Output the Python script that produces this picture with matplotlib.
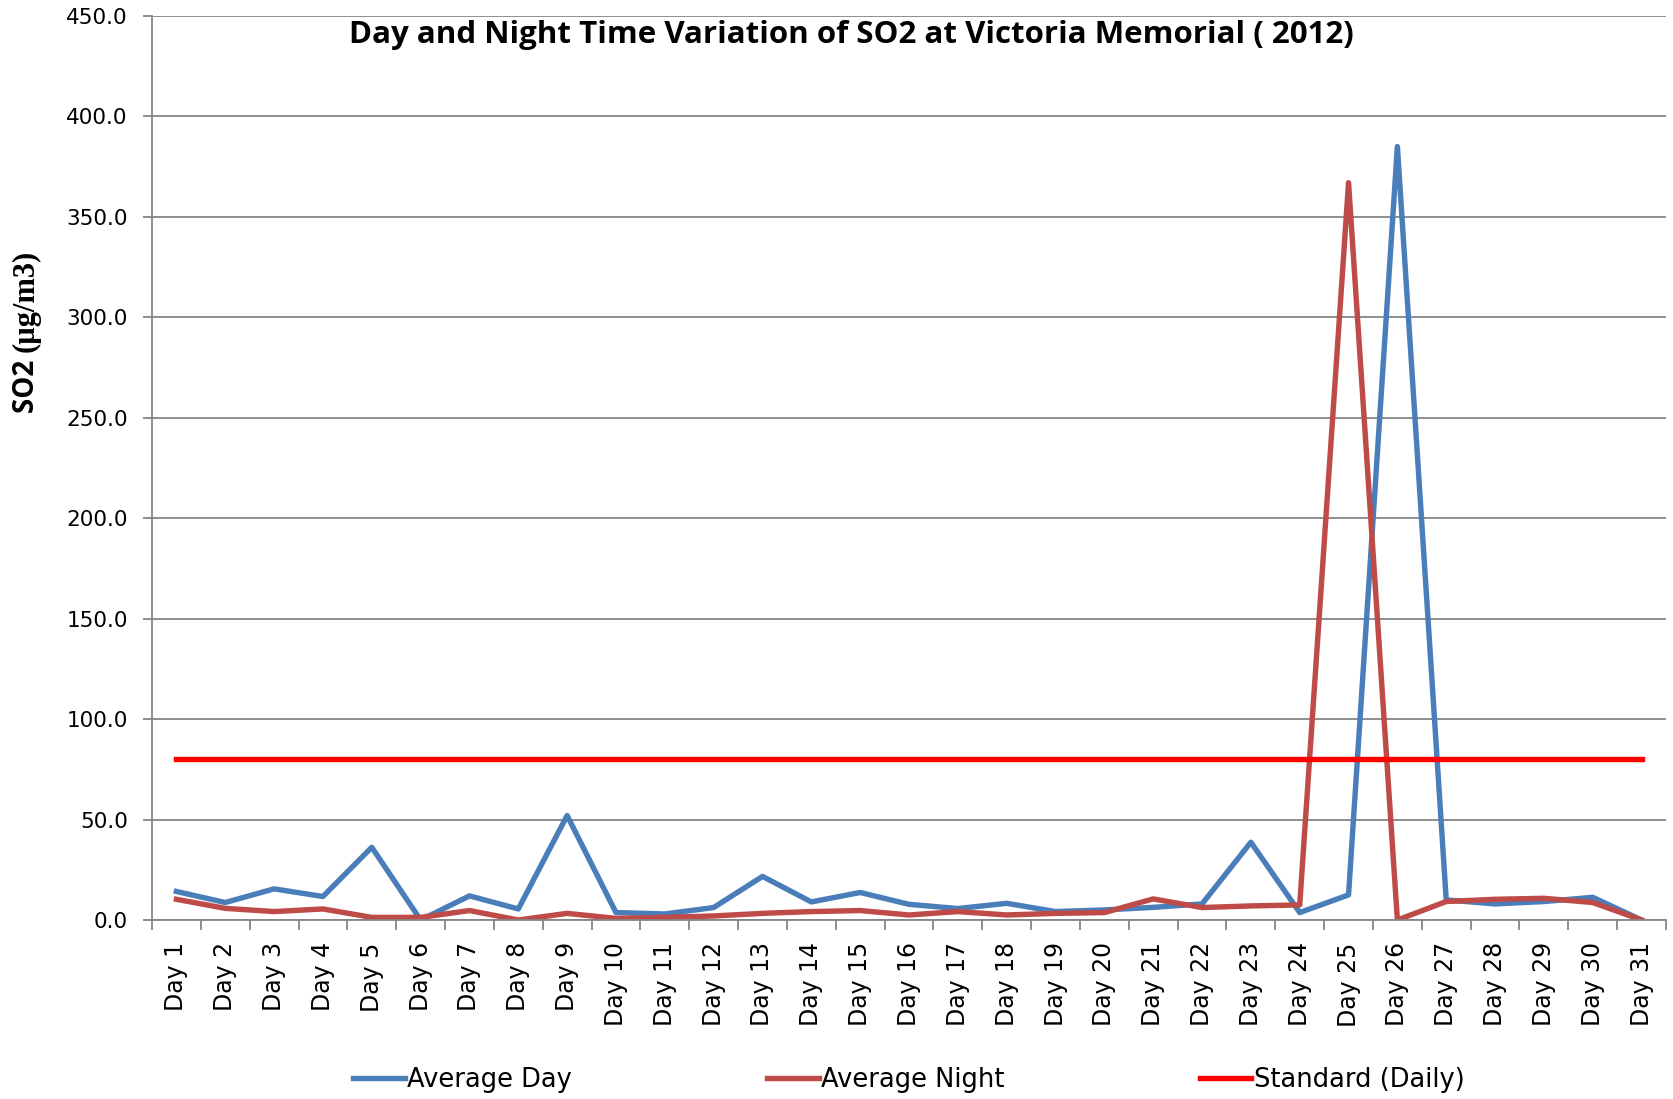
import matplotlib.pyplot as plt

days = [f"Day {i}" for i in range(1, 32)]
avg_day = [14.2, 8.7, 15.5, 11.7, 36.2, 0.0, 12.0, 5.5, 52.0, 3.7, 3.0,
           6.2, 21.7, 9.0, 13.7, 7.8, 5.7, 8.3, 4.2, 5.0, 6.3, 8.0,
           38.7, 3.7, 12.5, 385.0, 10.0, 8.0, 9.2, 11.3, 0.0]
avg_night = [10.3, 5.8, 4.2, 5.5, 1.3, 1.3, 4.7, 0.0, 3.3, 0.8, 1.3,
             2.0, 3.3, 4.2, 4.7, 2.5, 4.2, 2.5, 3.3, 3.7, 10.5, 6.2,
             7.0, 7.5, 367.0, 0.0, 9.2, 10.3, 10.8, 8.7, 0.0]
standard = [80.0] * 31
y_ticks = [0, 50, 100, 150, 200, 250, 300, 350, 400, 450]

W, H = 1673, 1099
fig = plt.figure(figsize=(W / 100, H / 100), dpi=100)
ax = fig.add_axes([152 / W, 1 - 920 / H, (1666 - 152) / W, (920 - 16) / H])

gray = '#868686'
x = list(range(len(days)))
l1, = ax.plot(x, avg_day, color='#4A7EBB', lw=3.9, label='Average Day')
l2, = ax.plot(x, avg_night, color='#BE4B48', lw=3.9, label='Average Night')
l3, = ax.plot(x, standard, color='#FF0000', lw=3.9, label='Standard (Daily)')

ax.set_xlim(-0.5, 30.5)
ax.set_ylim(0, 450)
ax.set_yticks(y_ticks)
ax.set_yticklabels([f"{v:.1f}" for v in y_ticks], fontsize=15.5, family='DejaVu Sans')
ax.yaxis.grid(True, color=gray, lw=1.3)
ax.set_axisbelow(True)

ax.set_xticks(x)
ax.set_xticklabels(days, rotation=90, fontsize=17, family='DejaVu Sans')
ax.set_xticks([i - 0.5 for i in range(32)], minor=True)
ax.tick_params(axis='x', which='major', length=0, pad=16)
ax.tick_params(axis='x', which='minor', length=7, color=gray, width=1.3)
ax.tick_params(axis='y', length=6.5, color=gray, width=1.3, pad=11)

for s in ['top', 'right']:
    ax.spines[s].set_visible(False)
for s in ['left', 'bottom']:
    ax.spines[s].set_color(gray)
    ax.spines[s].set_linewidth(1.3)

fig.text(851 / W, 1 - 35 / H, 'Day and Night Time Variation of SO2 at Victoria Memorial ( 2012)',
         ha='center', va='center', fontsize=22.5, fontweight='bold', family='Open Sans')

fig.text(26 / W, 1 - 352 / H, 'SO2 ', rotation=90, ha='center', va='top',
         fontsize=20, fontweight='bold', family='Open Sans')
fig.text(26 / W, 1 - 352 / H, '(µg/m3)', rotation=90, ha='center', va='bottom',
         fontsize=22, fontweight='bold', family='Liberation Serif')

fig.legend(handles=[l1, l2, l3], loc='center', bbox_to_anchor=((152 + 1666) / 2 / W, 1 - 1080 / H),
           ncol=3, frameon=False, prop={'family': 'DejaVu Sans', 'size': 18.5},
           handlelength=2.0, handletextpad=0.1, columnspacing=7.6)

fig.savefig('out.png', dpi=100)
